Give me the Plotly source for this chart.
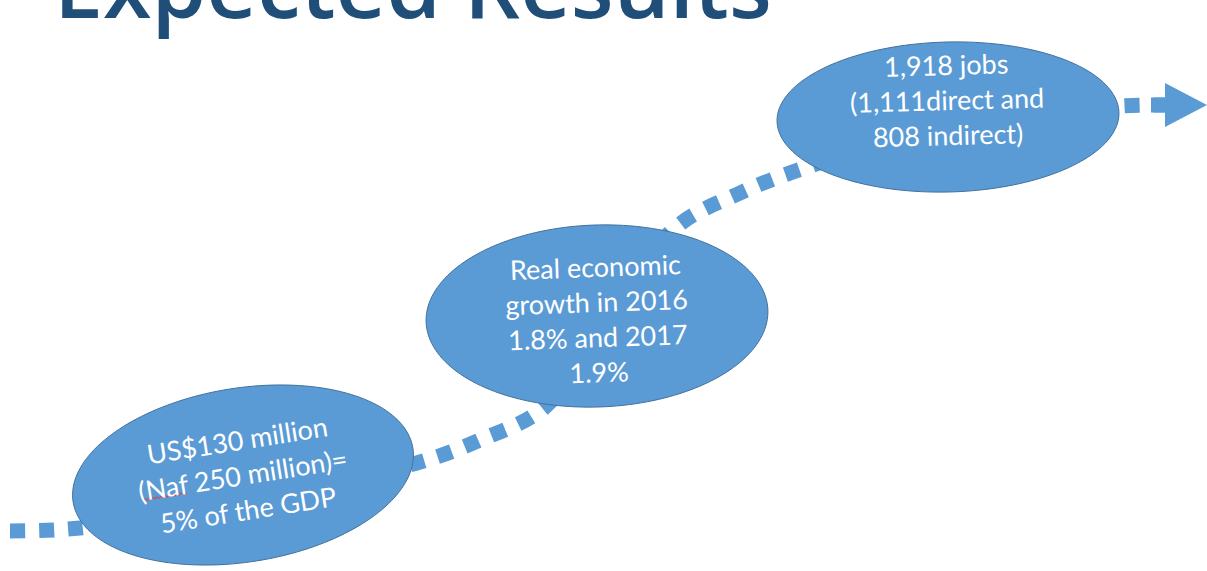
import numpy as np
import plotly.graph_objects as go

# ---------------- content ----------------
title_text = "Expected Results"
step_labels = [
    "US$130 million<br>(Naf 250 million)=<br>5% of the GDP",
    "Real economic<br>growth in 2016<br>1.8% and 2017<br>1.9%",
    "1,918 jobs<br>(1,111direct and<br>808 indirect)",
]

# ---------------- layout geometry (pixel space) ----------------
W, H = 1207, 571
ellipse_cx = [243, 597, 948]
ellipse_cy = [475, 316, 117]
ellipse_a = [172, 171, 171]
ellipse_b = [87, 91, 75]
ellipse_rot = [9, 2, 1.5]          # degrees, right side raised
text_cx = [242, 597, 947]
text_cy = [474, 319, 99]

curve_x = [10, 80, 250, 420, 480, 545, 610, 675, 740, 810, 960, 1120, 1166]
curve_y = [531, 528, 500, 462, 440, 407, 315, 228, 193, 166, 122, 106, 105]

BLUE = "#5B9BD5"
EDGE = "#41719C"
TITLE = "#1F4E79"

fig = go.Figure()

# dotted path
fig.add_trace(go.Scatter(
    x=curve_x, y=curve_y, mode="lines",
    line=dict(color=BLUE, width=15, dash="15px,14px", shape="spline", smoothing=1),
    hoverinfo="skip", showlegend=False))
# stub into arrow head
fig.add_trace(go.Scatter(
    x=[1151, 1167], y=[105, 105], mode="lines",
    line=dict(color=BLUE, width=15), hoverinfo="skip", showlegend=False))

shapes = []
# arrow head
shapes.append(dict(type="path", path="M 1165,83 L 1207,105 L 1165,127 Z",
                   fillcolor=BLUE, line=dict(width=0), layer="below"))

t = np.linspace(0, 2 * np.pi, 181)
for cx, cy, a, b, r in zip(ellipse_cx, ellipse_cy, ellipse_a, ellipse_b, ellipse_rot):
    th = np.deg2rad(r)
    xs = cx + a * np.cos(t) * np.cos(th) + b * np.sin(t) * np.sin(th)
    ys = cy - a * np.cos(t) * np.sin(th) + b * np.sin(t) * np.cos(th)
    p = "M " + " L ".join(f"{x:.2f},{y:.2f}" for x, y in zip(xs, ys)) + " Z"
    shapes.append(dict(type="path", path=p, fillcolor=BLUE,
                       line=dict(color=EDGE, width=1), layer="above"))

# spell-check squiggle under "Naf"
n_sq = 23
sq_t = np.linspace(0, 1, n_sq)
sq_x = 143 + 44 * sq_t
sq_y = 500 - 7 * sq_t + np.where(np.arange(n_sq) % 2 == 0, 1.2, -1.2)
sq_path = "M " + " L ".join(f"{x:.2f},{y:.2f}" for x, y in zip(sq_x, sq_y))
shapes.append(dict(type="path", path=sq_path, line=dict(color="#E03C31", width=1),
                   layer="above"))

annotations = []
annotations.append(dict(x=52, y=46, xref="x", yref="y", text=title_text,
                        xanchor="left", yanchor="bottom", showarrow=False,
                        font=dict(family="Open Sans", size=88, color=TITLE, weight=600)))
for lab, x, y, r in zip(step_labels, text_cx, text_cy, ellipse_rot):
    annotations.append(dict(x=x, y=y, xref="x", yref="y", text=lab,
                            xanchor="center", yanchor="middle", showarrow=False,
                            textangle=-r, align="center",
                            font=dict(family="Lato", size=27, color="white")))

fig.update_layout(
    width=W, height=H, margin=dict(l=0, r=0, t=0, b=0),
    paper_bgcolor="white", plot_bgcolor="white",
    xaxis=dict(range=[0, W], visible=False, fixedrange=True),
    yaxis=dict(range=[H, 0], visible=False, fixedrange=True),
    shapes=shapes, annotations=annotations, showlegend=False)

fig.write_html("out.html", config={"displayModeBar": False},
               post_script="document.body.style.margin='0';document.body.style.overflow='hidden';")
